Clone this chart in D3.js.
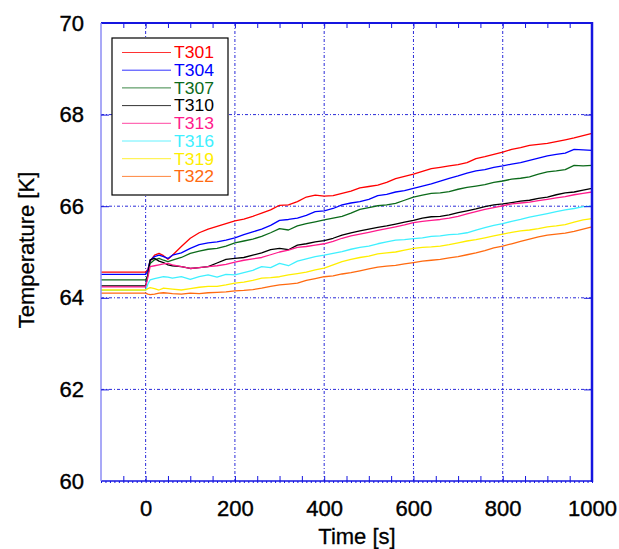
<!DOCTYPE html>
<html><head><meta charset="utf-8">
<script src="https://cdn.jsdelivr.net/npm/d3@7"></script>
<style>
body{margin:0;background:#fff;}
svg{display:block;font-family:"Liberation Sans",Arial,sans-serif;}
</style></head>
<body><svg id="c" width="619" height="549"></svg>
<script>
const seriesNames = ["T301","T304","T307","T310","T313","T316","T319","T322"];
const seriesColors = ["#ff0000","#0000ff","#0b6a1a","#000000","#ff1a8c","#3ff0ff","#ffee00","#ff6a10"];
const xTicks = [0,200,400,600,800,1000];
const yTicks = [60,62,64,66,68,70];
const time = [-100,0,5,10,20,30,40,50,60,80,100,120,140,160,180,200,220,240,260,280,300,320,340,360,380,400,420,440,460,480,500,520,540,560,580,600,620,640,660,680,700,720,740,760,780,800,820,840,860,880,900,920,940,960,980,1000];
const T301 = [64.56,64.56,64.62,64.80,64.93,64.97,64.92,64.84,64.93,65.12,65.30,65.42,65.50,65.56,65.62,65.68,65.72,65.78,65.85,65.92,66.02,66.03,66.10,66.20,66.24,66.22,66.23,66.28,66.33,66.40,66.43,66.46,66.52,66.60,66.65,66.70,66.76,66.82,66.85,66.88,66.91,66.95,67.04,67.08,67.13,67.18,67.24,67.28,67.33,67.35,67.37,67.41,67.45,67.49,67.54,67.59];
const T304 = [64.51,64.51,64.60,64.82,64.90,64.93,64.90,64.86,64.93,64.98,65.08,65.16,65.20,65.22,65.26,65.31,65.38,65.44,65.50,65.58,65.69,65.71,65.74,65.80,65.88,65.90,65.95,66.03,66.07,66.10,66.15,66.23,66.26,66.31,66.34,66.39,66.44,66.49,66.55,66.61,66.66,66.72,66.77,66.80,66.85,66.88,66.92,66.95,67.00,67.05,67.10,67.13,67.16,67.24,67.23,67.22];
const T307 = [64.39,64.39,64.50,64.75,64.83,64.86,64.82,64.79,64.82,64.88,64.97,65.02,65.06,65.08,65.13,65.20,65.24,65.28,65.34,65.42,65.51,65.48,65.57,65.62,65.66,65.70,65.74,65.78,65.85,65.93,65.97,66.01,66.03,66.06,66.13,66.20,66.24,66.28,66.29,66.32,66.37,66.41,66.44,66.47,66.52,66.55,66.59,66.61,66.64,66.70,66.75,66.77,66.80,66.89,66.88,66.89];
const T310 = [64.26,64.26,64.50,64.83,64.86,64.80,64.77,64.72,64.70,64.68,64.64,64.66,64.68,64.76,64.84,64.86,64.88,64.93,64.98,65.05,65.08,65.05,65.15,65.18,65.22,65.25,65.30,65.37,65.42,65.46,65.50,65.54,65.57,65.61,65.65,65.69,65.74,65.77,65.78,65.81,65.86,65.90,65.94,65.99,66.03,66.05,66.08,66.11,66.13,66.17,66.20,66.25,66.29,66.31,66.35,66.39];
const T313 = [64.24,64.24,64.45,64.68,64.70,64.72,64.74,64.75,64.72,64.68,64.64,64.66,64.68,64.70,64.73,64.78,64.82,64.85,64.88,64.94,65.00,65.04,65.10,65.12,65.15,65.18,65.23,65.30,65.35,65.39,65.43,65.47,65.51,65.55,65.59,65.64,65.67,65.69,65.71,65.74,65.78,65.83,65.88,65.93,65.97,66.01,66.05,66.07,66.09,66.12,66.15,66.18,66.21,66.25,66.28,66.31];
const T316 = [64.16,64.16,64.30,64.39,64.42,64.44,64.46,64.45,64.43,64.46,64.40,64.46,64.50,64.45,64.51,64.50,64.55,64.60,64.68,64.66,64.75,64.70,64.80,64.85,64.90,64.93,64.97,65.01,65.06,65.10,65.13,65.18,65.22,65.26,65.27,65.29,65.31,65.34,65.35,65.38,65.39,65.42,65.48,65.53,65.58,65.62,65.67,65.71,65.76,65.80,65.84,65.88,65.92,65.95,65.99,66.00];
const T319 = [64.17,64.17,64.20,64.22,64.20,64.17,64.21,64.20,64.19,64.17,64.20,64.23,64.25,64.25,64.28,64.32,64.34,64.38,64.43,64.44,64.46,64.50,64.53,64.56,64.61,64.65,64.72,64.79,64.84,64.88,64.91,64.96,64.98,65.00,65.04,65.08,65.10,65.11,65.13,65.16,65.20,65.24,65.27,65.31,65.35,65.39,65.43,65.46,65.48,65.51,65.55,65.57,65.60,65.65,65.70,65.73];
const T322 = [64.10,64.10,64.08,64.07,64.08,64.10,64.11,64.10,64.09,64.08,64.10,64.09,64.11,64.12,64.13,64.15,64.16,64.18,64.21,64.25,64.28,64.30,64.32,64.38,64.42,64.46,64.48,64.52,64.55,64.59,64.63,64.67,64.69,64.71,64.74,64.77,64.80,64.82,64.84,64.87,64.90,64.94,64.98,65.03,65.09,65.13,65.18,65.23,65.28,65.33,65.37,65.39,65.41,65.45,65.50,65.55];
const seriesValues = [T301,T304,T307,T310,T313,T316,T319,T322];

const svg = d3.select("#c");
const L=101, R=592, Tp=23, B=481;
const x = d3.scaleLinear().domain([-100,1000]).range([L,R]);
const y = d3.scaleLinear().domain([60,70]).range([B,Tp]);
const axisCol = "#1515e0";

// grid
const grid = svg.append("g");
grid.selectAll("line.gx").data([0,200,400,600,800]).enter().append("line")
  .attr("x1",d=>x(d)).attr("x2",d=>x(d)).attr("y1",Tp).attr("y2",B)
  .attr("stroke","#2a2ad8").attr("stroke-width",1).attr("stroke-dasharray","3,2,1,2");
grid.selectAll("line.gy").data([62,64,66,68]).enter().append("line")
  .attr("x1",L).attr("x2",R).attr("y1",d=>y(d)).attr("y2",d=>y(d))
  .attr("stroke","#2a2ad8").attr("stroke-width",1).attr("stroke-dasharray","3,2,1,2");

// series
const line = d3.line().x((d,i)=>x(time[i])).y(d=>y(d));
seriesValues.forEach((vals,k)=>{
  svg.append("path").datum(vals).attr("d",line).attr("fill","none")
    .attr("stroke",seriesColors[k]).attr("stroke-width",1.3).attr("stroke-linejoin","round");
});

// axes frame
const minor = d3.range(-100,1001,10);
const major50 = d3.range(-50,1000,50);
const gb = svg.append("g").attr("transform",`translate(0,${B})`);
gb.call(d3.axisBottom(x).tickValues(minor).tickSize(2).tickFormat("")).call(g=>g.select(".domain").remove());
gb.selectAll("line").attr("stroke",axisCol);
const gb2 = svg.append("g").attr("transform",`translate(0,${B})`);
gb2.call(d3.axisBottom(x).tickValues(major50).tickSize(-5).tickFormat("")).call(g=>g.select(".domain").remove());
gb2.selectAll("line").attr("stroke",axisCol);
svg.append("line").attr("x1",L).attr("x2",R).attr("y1",B).attr("y2",B).attr("stroke",axisCol).attr("stroke-width",1.5);
const gbl = svg.append("g").attr("transform",`translate(0,${B})`);
gbl.call(d3.axisBottom(x).tickValues(xTicks).tickSize(0).tickPadding(19).tickFormat(d3.format("d")));
gbl.select(".domain").remove();
gbl.selectAll("text").attr("font-size",22).attr("fill","#000").attr("stroke","#000").attr("stroke-width",0.4)
  .attr("font-family","Liberation Sans, Arial, sans-serif");
const gt = svg.append("g").attr("transform",`translate(0,${Tp})`);
gt.call(d3.axisTop(x).tickValues(major50).tickSize(-5).tickFormat("")).call(g=>g.select(".domain").remove());
gt.selectAll("line").attr("stroke",axisCol);
svg.append("line").attr("x1",L).attr("x2",R+1).attr("y1",Tp).attr("y2",Tp).attr("stroke",axisCol).attr("stroke-width",2);
svg.append("line").attr("x1",L).attr("x2",L).attr("y1",Tp).attr("y2",B).attr("stroke","#8c8cf5").attr("stroke-width",1.5);
const gl = svg.append("g").attr("transform",`translate(${L},0)`);
gl.call(d3.axisLeft(y).tickValues([62,64,66,68]).tickSize(-8).tickFormat("")).call(g=>g.select(".domain").remove());
gl.selectAll("line").attr("stroke",axisCol);
const gll = svg.append("g").attr("transform",`translate(${L},0)`);
gll.call(d3.axisLeft(y).tickValues(yTicks).tickSize(0).tickPadding(17).tickFormat(d3.format("d")));
gll.select(".domain").remove();
gll.selectAll("text").attr("font-size",22).attr("fill","#000").attr("stroke","#000").attr("stroke-width",0.4)
  .attr("font-family","Liberation Sans, Arial, sans-serif");
svg.append("line").attr("x1",R).attr("x2",R).attr("y1",Tp-1).attr("y2",B+1).attr("stroke",axisCol).attr("stroke-width",2.5);
const gr = svg.append("g").attr("transform",`translate(${R},0)`);
gr.call(d3.axisRight(y).tickValues([62,64,66,68]).tickSize(-8).tickFormat("")).call(g=>g.select(".domain").remove());
gr.selectAll("line").attr("stroke",axisCol);

// axis titles
svg.append("text").attr("x",357).attr("y",544).attr("text-anchor","middle")
  .attr("font-size",22).attr("stroke","#000").attr("stroke-width",0.3).text("Time [s]");
svg.append("text").attr("transform","translate(34,250) rotate(-90)").attr("text-anchor","middle")
  .attr("font-size",22).attr("stroke","#000").attr("stroke-width",0.3).text("Temperature [K]");

// legend
const lg = svg.append("g");
lg.append("rect").attr("x",112).attr("y",38).attr("width",116).attr("height",157)
  .attr("fill","#fff").attr("stroke","#000").attr("stroke-width",1.2);
seriesNames.forEach((n,i)=>{
  const yy = 52.5 + i*17.7;
  lg.append("line").attr("x1",122).attr("x2",171).attr("y1",yy).attr("y2",yy)
    .attr("stroke",seriesColors[i]).attr("stroke-width",1).attr("opacity",0.8);
  lg.append("text").attr("x",174).attr("y",yy+5.8).attr("font-size",16)
    .attr("textLength",40).attr("lengthAdjust","spacingAndGlyphs")
    .attr("fill",seriesColors[i]).text(n);
});
</script></body></html>
